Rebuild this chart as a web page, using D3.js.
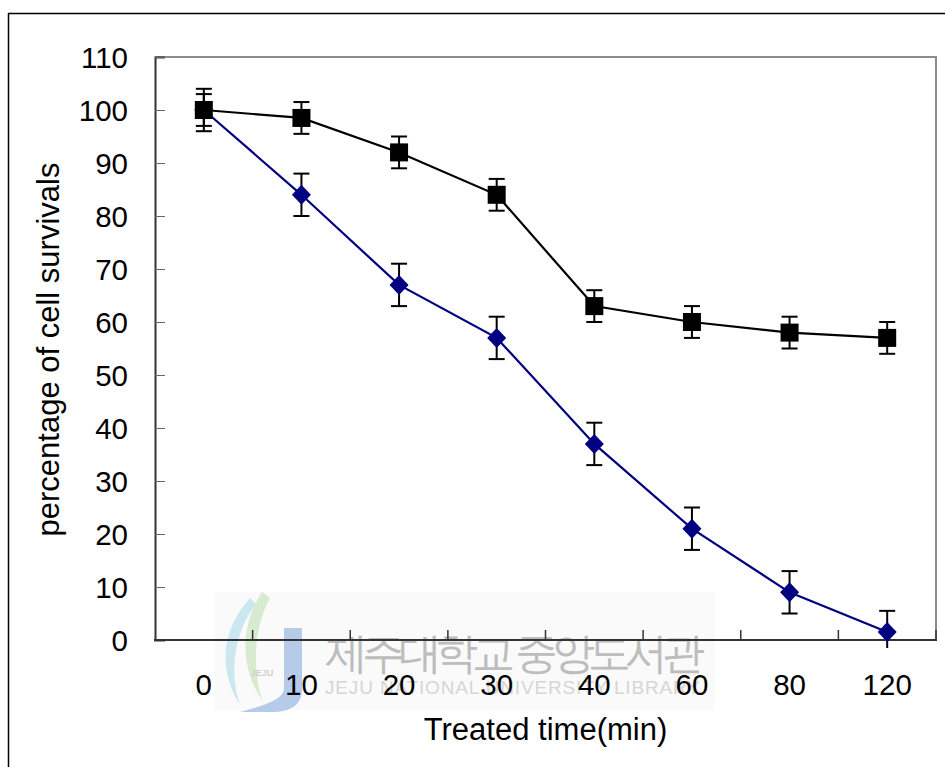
<!DOCTYPE html>
<html>
<head>
<meta charset="utf-8">
<script src="https://cdn.jsdelivr.net/npm/d3@7/dist/d3.min.js"></script>
<style>
  html, body { margin: 0; padding: 0; background: #fff; }
  svg { display: block; }
  text { font-family: "Liberation Sans", Arial, sans-serif; }
</style>
</head>
<body>
<script>
// ---- data ----
const times = ["0", "10", "20", "30", "40", "60", "80", "120"];
const controlValues = [100, 98.5, 92, 84, 63, 60, 58, 57];
const controlErrors = [3, 3, 3, 3, 3, 3, 3, 3];
const treatedValues = [100, 84, 67, 57, 37, 21, 9, 1.5];
const treatedErrors = [4, 4, 4, 4, 4, 4, 4, 4];
const yTicks = [0, 10, 20, 30, 40, 50, 60, 70, 80, 90, 100, 110];
const xTitle = "Treated time(min)";
const yTitle = "percentage of cell survivals";
const watermarkKo = "제주대학교 중앙도서관";
const watermarkEn = "JEJU NATIONAL UNIVERSITY LIBRARY";

const W = 945, H = 767;
const plot = { left: 155, top: 57, right: 936, bottom: 640 };

const svg = d3.select("body").append("svg").attr("width", W).attr("height", H);

// outer frame (top + left visible)
svg.append("line").attr("x1", 8).attr("x2", W + 5).attr("y1", 13.5).attr("y2", 13.5)
  .attr("stroke", "#000").attr("stroke-width", 1.5);
svg.append("line").attr("x1", 8.5).attr("x2", 8.5).attr("y1", 13).attr("y2", H + 5)
  .attr("stroke", "#000").attr("stroke-width", 1.5);

const x = d3.scaleBand().domain(times).range([plot.left, plot.right]).padding(0);
const y = d3.scaleLinear().domain([0, 110]).range([plot.bottom, plot.top]);
const cx = d => x(d) + x.bandwidth() / 2;

// ---- watermark ----
const wm = svg.append("g").attr("class", "watermark");
wm.append("rect").attr("x", 215).attr("y", 592).attr("width", 500).attr("height", 118)
  .attr("fill", "#f7f7f7").attr("opacity", 0.6);
wm.append("path")
  .attr("d", "M250,598 C225,625 215,665 240,705 C228,668 236,630 256,604 Z")
  .attr("fill", "#bfe3ee").attr("opacity", 0.8);
wm.append("path")
  .attr("d", "M262,592 C240,625 240,668 262,700 C252,665 254,628 270,598 Z")
  .attr("fill", "#cfe6c4").attr("opacity", 0.8);
wm.append("path")
  .attr("d", "M284,628 L302,628 L302,690 C302,705 290,712 272,712 L240,712 C262,706 284,700 284,688 Z")
  .attr("fill", "#a9c2e6").attr("opacity", 0.85);
wm.append("text").attr("x", 262).attr("y", 676).attr("text-anchor", "middle")
  .attr("font-size", 9).attr("fill", "#cfcfcf").attr("font-weight", "bold").text("JEJU");
wm.append("text").attr("x", 325).attr("y", 668)
  .attr("font-family", "'Noto Sans CJK KR', sans-serif")
  .attr("font-size", 43).attr("fill", "#bdbdbd").attr("textLength", 380)
  .text(watermarkKo);
wm.append("text").attr("x", 325).attr("y", 694)
  .attr("font-size", 19).attr("fill", "#d6d6d6").attr("textLength", 375)
  .text(watermarkEn);

// ---- plot frame ----
svg.append("line").attr("x1", plot.left).attr("x2", plot.right + 1).attr("y1", plot.top).attr("y2", plot.top)
  .attr("stroke", "#8c8c8c").attr("stroke-width", 2);
svg.append("line").attr("x1", plot.right).attr("x2", plot.right).attr("y1", plot.top).attr("y2", plot.bottom)
  .attr("stroke", "#8c8c8c").attr("stroke-width", 2);

// y axis (ticks inside)
const yAxis = svg.append("g").attr("transform", `translate(${plot.left},0)`)
  .call(d3.axisRight(y).tickValues(yTicks).tickSize(10).tickFormat(""));
yAxis.select(".domain").attr("stroke", "#333").attr("stroke-width", 2);
yAxis.selectAll(".tick line").attr("stroke", "#666").attr("stroke-width", 1);
svg.append("g").selectAll("text").data(yTicks).join("text")
  .attr("x", 128).attr("y", d => y(d)).attr("dy", "0.36em")
  .attr("text-anchor", "end").attr("font-size", 29.5).attr("fill", "#000")
  .text(d => d);

// x axis (ticks inside at band boundaries)
const boundaries = times.slice(1);
const xAxisG = svg.append("g").attr("transform", `translate(0,${plot.bottom})`);
xAxisG.append("line").attr("x1", plot.left - 1).attr("x2", plot.right + 1).attr("y1", 0).attr("y2", 0)
  .attr("stroke", "#333").attr("stroke-width", 2);
xAxisG.selectAll("line.tk").data(boundaries.concat(["__end"])).join("line").attr("class", "tk")
  .attr("x1", d => d === "__end" ? plot.right : x(d)).attr("x2", d => d === "__end" ? plot.right : x(d))
  .attr("y1", 0).attr("y2", -10).attr("stroke", "#333").attr("stroke-width", 1.5);
svg.append("g").selectAll("text").data(times).join("text")
  .attr("x", d => cx(d)).attr("y", 695).attr("text-anchor", "middle")
  .attr("font-size", 29.5).attr("fill", "#000").text(d => d);

// titles
svg.append("text").attr("x", (plot.left + plot.right) / 2).attr("y", 740)
  .attr("text-anchor", "middle").attr("font-size", 31).attr("fill", "#000").text(xTitle);
svg.append("text").attr("transform", `translate(59,${(plot.top + plot.bottom) / 2 + 1}) rotate(-90)`)
  .attr("text-anchor", "middle").attr("font-size", 31).attr("fill", "#000").text(yTitle);

// clip for error bars (allow slight overshoot below axis)
svg.append("clipPath").attr("id", "clip").append("rect")
  .attr("x", plot.left - 20).attr("y", plot.top - 20)
  .attr("width", plot.right - plot.left + 40).attr("height", plot.bottom - plot.top + 28);

const line = d3.line().x(d => cx(d.t)).y(d => y(d.v));

function drawSeries(values, errors, color, shape) {
  const pts = times.map((t, i) => ({ t, v: values[i], e: errors[i] }));
  const g = svg.append("g");
  g.append("path").datum(pts).attr("d", line).attr("fill", "none")
    .attr("stroke", color).attr("stroke-width", 2.2);
  const eb = g.append("g").attr("clip-path", "url(#clip)");
  eb.selectAll("line.v").data(pts).join("line").attr("class", "v")
    .attr("x1", d => cx(d.t)).attr("x2", d => cx(d.t))
    .attr("y1", d => y(d.v + d.e)).attr("y2", d => y(d.v - d.e))
    .attr("stroke", "#000").attr("stroke-width", 2);
  ["top", "bot"].forEach(k => {
    eb.selectAll("line." + k).data(pts).join("line").attr("class", k)
      .attr("x1", d => cx(d.t) - 8).attr("x2", d => cx(d.t) + 8)
      .attr("y1", d => y(k === "top" ? d.v + d.e : d.v - d.e))
      .attr("y2", d => y(k === "top" ? d.v + d.e : d.v - d.e))
      .attr("stroke", "#000").attr("stroke-width", 2);
  });
  if (shape === "square") {
    g.selectAll("rect").data(pts).join("rect")
      .attr("x", d => cx(d.t) - 9).attr("y", d => y(d.v) - 9)
      .attr("width", 18).attr("height", 18).attr("fill", color);
  } else {
    g.selectAll("path.m").data(pts).join("path").attr("class", "m")
      .attr("transform", d => `translate(${cx(d.t)},${y(d.v)})`)
      .attr("d", "M0,-10 L9.5,0 L0,10 L-9.5,0 Z").attr("fill", color);
  }
}

drawSeries(treatedValues, treatedErrors, "#000080", "diamond");
drawSeries(controlValues, controlErrors, "#000000", "square");
</script>
</body>
</html>
